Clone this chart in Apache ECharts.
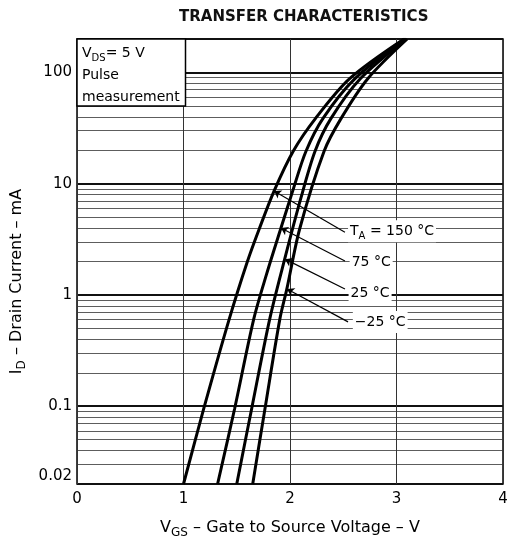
<!DOCTYPE html>
<html>
<head>
<meta charset="utf-8">
<title>Transfer characteristics</title>
<script src="https://cdn.jsdelivr.net/npm/echarts@6/dist/echarts.min.js"></script>
<style>
html, body { margin: 0; padding: 0; background: #fff; }
#chart { width: 510px; height: 541px; }
</style>
</head>
<body>
<div id="chart"></div>
<script>
// tick labels
var xTicks = ['0', '1', '2', '3', '4'];
var yTicks = ['0.02', '0.1', '1', '10', '100'];

// curves: V_GS (V) and I_D (mA)
var vgs150 = [1.00, 1.19,  1.43, 1.60, 1.71,  1.85, 2.03, 2.24, 2.56, 3.07];
var id150  = [0.02, 0.095, 0.61, 2.0,  3.9,   8.6,  19.6, 38.7, 88,   200];
var vgs75  = [1.32, 1.48,  1.66, 1.78, 1.915, 2.03, 2.15, 2.31, 2.61, 3.08];
var id75   = [0.02, 0.095, 0.61, 1.54, 4.0,   8.9,  19.6, 38.7, 88,   200];
var vgs25  = [1.50, 1.64,  1.81, 1.95, 2.10,  2.235, 2.385, 2.66, 3.09];
var id25   = [0.02, 0.095, 0.61, 2.1,  7.3,   19.6,  38.7,  88,   200];
var vgsM25 = [1.65, 1.765, 1.905, 1.97, 2.09, 2.32, 2.48, 2.73, 3.10];
var idM25  = [0.02, 0.095, 0.61,  1.13, 3.9,  19.6, 38.7, 88,   200];

var curveLabels = ['{n|T}{s|A}{n| = 150 °C}', '{n|75 °C}', '{n|25 °C}', '{n|−25 °C}'];
// where each label text starts, and its leader line
var labelAt    = [[2.545, 3.75], [2.56, 1.98], [2.55, 1.04], [2.59, 0.573]];
var leaderFrom = [[2.516, 3.67], [2.516, 2.02], [2.516, 1.13], [2.545, 0.573]];
var leaderTo   = [[1.85, 8.6], [1.915, 4.0], [1.953, 2.1], [1.972, 1.13]];

function pairs(xs, ys) {
    var out = [];
    for (var i = 0; i < xs.length; i++) out.push([xs[i], ys[i]]);
    return out;
}

var FONT = 'DejaVu Sans';
var richText = {
    n: { fontSize: 14, color: '#000', fontFamily: FONT, lineHeight: 22 },
    s: { fontSize: 10, color: '#000', fontFamily: FONT, lineHeight: 12, padding: [10, 0, 0, 0] }
};
var nameRich = {
    n: { fontSize: 16, color: '#000', fontFamily: FONT, lineHeight: 24 },
    s: { fontSize: 12, color: '#000', fontFamily: FONT, lineHeight: 14, padding: [10, 0, 0, 0] }
};

// minor log grid lines (2..9 in each decade)
var minorLines = [];
[0.01, 0.1, 1, 10, 100].forEach(function (d) {
    for (var m = 2; m <= 9; m++) {
        var v = +(m * d).toPrecision(3);
        if (v > 0.02 && v < 200) minorLines.push({ yAxis: v });
    }
});

var chart = echarts.init(document.getElementById('chart'));

var curves = [pairs(vgs150, id150), pairs(vgs75, id75), pairs(vgs25, id25), pairs(vgsM25, idM25)];
var series = [{
    type: 'line',
    data: [],
    silent: true,
    markLine: {
        silent: true,
        symbol: 'none',
        label: { show: false },
        lineStyle: { color: '#333', width: 0.8, type: 'solid' },
        data: minorLines
    }
}];
curves.forEach(function (c, i) {
    series.push({
        type: 'line',
        data: c,
        smooth: 0.3,
        showSymbol: false,
        lineStyle: { color: '#000', width: 3 },
        z: 5,
        markLine: {
            silent: true,
            symbol: ['none', 'arrow'],
            symbolSize: 7,
            label: { show: false },
            lineStyle: { color: '#000', width: 1.2, type: 'solid' },
            data: [[{ coord: leaderFrom[i] }, { coord: leaderTo[i] }]]
        },
        markPoint: {
            symbol: 'circle',
            symbolSize: 0,
            label: {
                show: true,
                position: 'right',
                distance: 0,
                backgroundColor: '#fff',
                padding: [0, 2, 0, 2],
                formatter: curveLabels[i],
                rich: richText
            },
            data: [{ coord: labelAt[i] }]
        }
    });
});

chart.setOption({
    animation: false,
    backgroundColor: '#fff',
    title: {
        text: 'TRANSFER CHARACTERISTICS',
        left: 174,
        top: 5,
        textStyle: { fontFamily: FONT, fontSize: 15, fontWeight: 'bold', color: '#111' }
    },
    grid: {
        left: 77, right: 7, top: 39, bottom: 57,
        containLabel: false,
        outerBoundsMode: 'none',
        show: true,
        borderColor: '#000',
        borderWidth: 1.5
    },
    xAxis: {
        type: 'value',
        min: 0, max: 4, interval: 1,
        axisLine: { show: false },
        axisTick: { show: false },
        axisLabel: {
            fontSize: 15, color: '#000', fontFamily: FONT, margin: 8,
            formatter: function (v) { return xTicks[Math.round(v)] || ''; }
        },
        splitLine: { show: true, lineStyle: { color: '#333', width: 1 } },
        name: '{n|V}{s|GS}{n| – Gate to Source Voltage – V}',
        nameLocation: 'middle',
        nameGap: 32,
        nameTextStyle: { rich: nameRich }
    },
    yAxis: {
        type: 'log',
        logBase: 10,
        min: 0.02, max: 200,
        axisLine: { show: false },
        axisTick: { show: false },
        axisLabel: {
            fontSize: 15, color: '#000', fontFamily: FONT, margin: 5,
            formatter: function (v) {
                for (var i = 0; i < yTicks.length; i++) {
                    var t = parseFloat(yTicks[i]);
                    if (Math.abs(t - v) / t < 1e-6) return i === 0 ? '{low|' + yTicks[i] + '}' : yTicks[i];
                }
                return '';
            },
            rich: { low: { fontSize: 15, color: '#000', fontFamily: FONT, padding: [0, 0, 16, 0] } }
        },
        splitLine: { show: true, lineStyle: { color: '#111', width: 1.8 } },
        name: '{n|I}{s|D}{n| – Drain Current – mA}',
        nameLocation: 'middle',
        nameGap: 41,
        nameTextStyle: { rich: nameRich, padding: [0, 40, 0, 0] }
    },
    series: series
});

// condition box in the top-left corner, anchored to the axes
var b0 = chart.convertToPixel({ gridIndex: 0 }, [0, 200]);
var b1 = chart.convertToPixel({ gridIndex: 0 }, [1, 50]);
chart.setOption({
    graphic: [{
        type: 'rect',
        z: 10,
        shape: { x: b0[0], y: b0[1], width: b1[0] - b0[0] + 2, height: b1[1] - b0[1] },
        style: { fill: '#fff', stroke: '#000', lineWidth: 1.5 }
    }, {
        type: 'text',
        z: 11,
        left: b0[0] + 5,
        top: b0[1] + 4,
        style: {
            text: '{n|V}{s|DS}{n|= 5 V}\n{n|Pulse}\n{n|measurement}',
            rich: {
                n: { fontSize: 14, fill: '#000', fontFamily: FONT, lineHeight: 22 },
                s: { fontSize: 10, fill: '#000', fontFamily: FONT, lineHeight: 12, padding: [10, 0, 0, 0] }
            }
        }
    }]
});
</script>
</body>
</html>
